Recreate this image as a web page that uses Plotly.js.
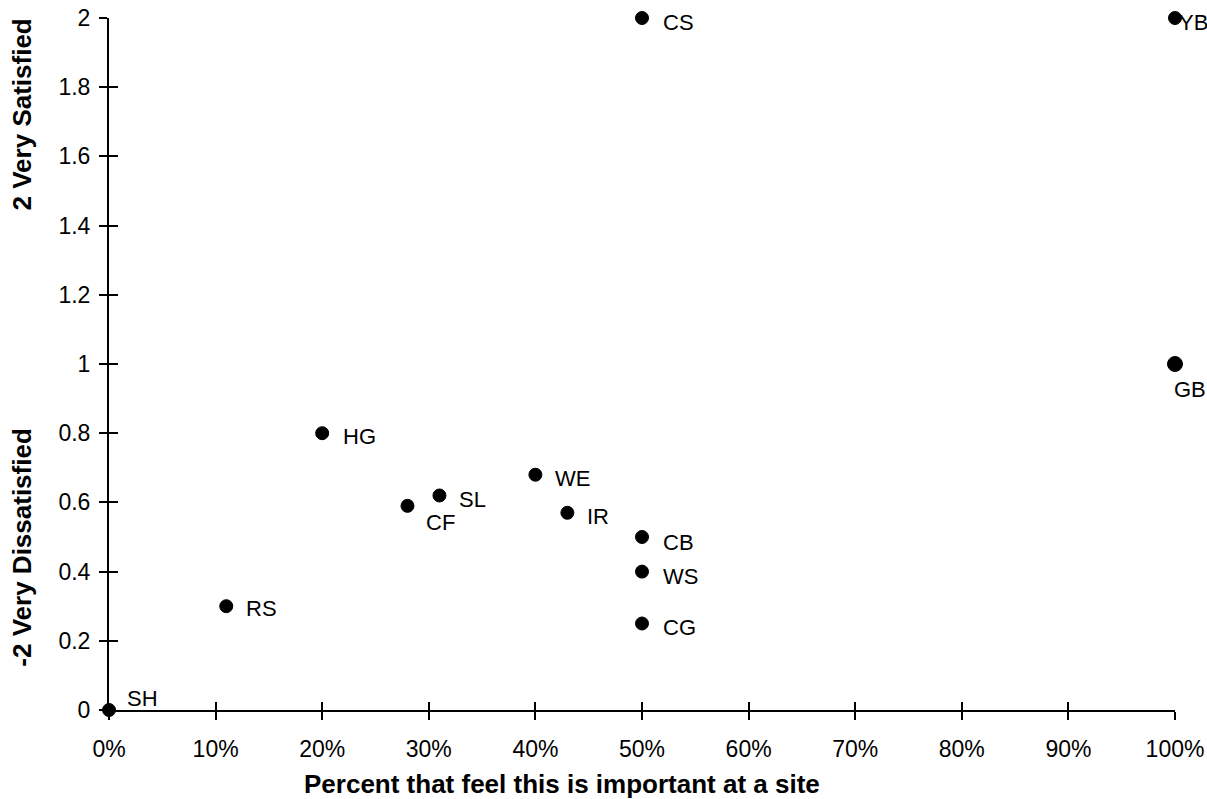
<!DOCTYPE html>
<html>
<head>
<meta charset="utf-8">
<script src="https://cdn.plot.ly/plotly-3.0.1.min.js"></script>
<style>html,body{margin:0;padding:0;background:#fff;}#chart{width:1207px;height:799px;}</style>
</head>
<body>
<div id="chart"></div>
<script>
const sites = ["SH","RS","HG","CF","SL","WE","IR","CB","WS","CG","CS","YB","GB"];
const importance = [0, 0.11, 0.20, 0.28, 0.31, 0.40, 0.43, 0.50, 0.50, 0.50, 0.50, 1.00, 1.00];
const satisfaction = [0, 0.30, 0.80, 0.59, 0.62, 0.68, 0.57, 0.50, 0.40, 0.25, 2.00, 2.00, 1.00];
const xTitle = "Percent that feel this is important at a site";
const yTitleTop = "2 Very Satisfied";
const yTitleBottom = "-2 Very Dissatisfied";

// label placement (pixel offsets from marker centre to label left edge / vertical centre)
const labelOffset = {
  SH: [16, 12], RS: [18, -2], HG: [19, -3], CF: [17, -17], SL: [18, -4],
  WE: [18, -4], IR: [18, -4], CB: [19, -5], WS: [19, -5], CG: [19, -4],
  CS: [19, -4], YB: [2, -4], GB: [-3, -25]
};
const markerSize = sites.map(s => s === "GB" ? 15 : 13);

const FONT = "Liberation Sans, Arial, sans-serif";

const trace = {
  type: "scatter", mode: "markers",
  x: importance, y: satisfaction, text: sites,
  marker: {color: "#000", size: markerSize, opacity: 1, line: {color: "#000", width: 1}},
  cliponaxis: false, hoverinfo: "text+x+y", showlegend: false
};
// invisible copy on overlay axes so that the inward half of each tick is drawn
const tickHelper = {
  type: "scatter", mode: "markers", xaxis: "x2", yaxis: "y2",
  x: importance, y: satisfaction,
  marker: {color: "rgba(0,0,0,0)", size: 1}, hoverinfo: "skip", showlegend: false
};

const annotations = sites.map((s, i) => ({
  x: importance[i], y: satisfaction[i], xref: "x", yref: "y",
  text: s, showarrow: false, xanchor: "left", yanchor: "middle",
  xshift: labelOffset[s][0], yshift: labelOffset[s][1],
  font: {family: FONT, size: 22, color: "#000"}
}));
annotations.push({
  xref: "paper", yref: "paper", x: -0.082, y: 0.86, text: "<b>" + yTitleTop + "</b>",
  textangle: -90, showarrow: false, xanchor: "center", yanchor: "middle",
  font: {family: FONT, size: 26, color: "#000"}
});
annotations.push({
  xref: "paper", yref: "paper", x: -0.082, y: 0.234, text: "<b>" + yTitleBottom + "</b>",
  textangle: -90, showarrow: false, xanchor: "center", yanchor: "middle",
  font: {family: FONT, size: 26, color: "#000"}
});
annotations.push({
  xref: "paper", yref: "paper", x: 0.425, y: -0.107, text: "<b>" + xTitle + "</b>",
  showarrow: false, xanchor: "center", yanchor: "middle",
  font: {family: FONT, size: 26, color: "#000"}
});

const axisCommon = {
  showgrid: false, zeroline: false, showline: true, linecolor: "#000", linewidth: 2,
  ticks: "outside", ticklen: 8, tickwidth: 2, tickcolor: "#000",
  tickfont: {family: FONT, size: 23, color: "#000"}
};

const layout = {
  width: 1207, height: 799,
  margin: {l: 109, r: 32, t: 18, b: 89},
  paper_bgcolor: "#fff", plot_bgcolor: "#fff",
  font: {family: FONT, color: "#000"},
  xaxis: Object.assign({}, axisCommon, {
    range: [0, 1], dtick: 0.1, tick0: 0, tickformat: ".0%", ticklabelstandoff: 9
  }),
  yaxis: Object.assign({}, axisCommon, {
    range: [0, 2], dtick: 0.2, tick0: 0, ticklabelstandoff: 4
  }),
  xaxis2: {overlaying: "x", anchor: "y", side: "bottom", range: [0, 1], dtick: 0.1, tick0: 0,
    showgrid: false, zeroline: false, showline: false, showticklabels: false,
    ticks: "inside", ticklen: 8, tickwidth: 2, tickcolor: "#000"},
  yaxis2: {overlaying: "y", anchor: "x", side: "left", range: [0, 2], dtick: 0.2, tick0: 0,
    showgrid: false, zeroline: false, showline: false, showticklabels: false,
    ticks: "inside", ticklen: 9, tickwidth: 2, tickcolor: "#000"},
  annotations: annotations
};

Plotly.newPlot("chart", [trace, tickHelper], layout, {displayModeBar: false, staticPlot: true});
</script>
</body>
</html>
